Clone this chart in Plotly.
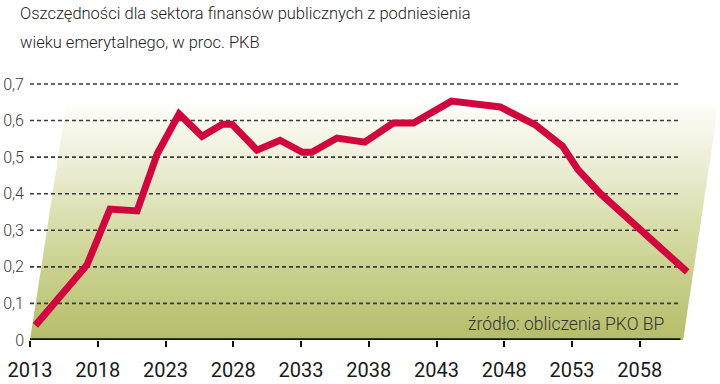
import plotly.graph_objects as go

# Data
years = [2013.4, 2017.2, 2018.9, 2020.9, 2022.4, 2024.0, 2025.7, 2027.2, 2027.9,
         2029.75, 2031.45, 2033.1, 2033.8, 2035.65, 2037.7, 2039.8, 2041.3, 2044.1,
         2047.7, 2050.3, 2052.3, 2053.45, 2055.1, 2061.5]
savings = [0.04, 0.205, 0.358, 0.353, 0.51, 0.618, 0.557, 0.59, 0.59,
           0.519, 0.546, 0.513, 0.513, 0.552, 0.541, 0.593, 0.593, 0.653,
           0.637, 0.588, 0.530, 0.465, 0.40, 0.186]

x_tick_years = [2013, 2018, 2023, 2028, 2033, 2038, 2043, 2048, 2053, 2058]
y_tick_vals = [0, 0.1, 0.2, 0.3, 0.4, 0.5, 0.6, 0.7]
y_tick_labels = ["0", "0,1", "0,2", "0,3", "0,4", "0,5", "0,6", "0,7"]

title_line1 = "Oszczędności dla sektora finansów publicznych z podniesienia"
title_line2 = "wieku emerytalnego, w proc. PKB"
source_text = "źródło: obliczenia PKO BP"

X_START, X_END = 2013, 2061.0
X_RANGE = [2013, 2063.92]
Y_RANGE = [0, 0.76]

fig = go.Figure()

# Background slanted panel with vertical gradient
panel_x = [X_START, X_END + 0.2, 2063.85, 2015.73, X_START]
panel_y = [0, 0, 0.656, 0.656, 0]
fig.add_trace(go.Scatter(
    x=panel_x, y=panel_y, mode="lines", fill="toself",
    line=dict(width=0, color="rgba(0,0,0,0)"),
    fillgradient=dict(type="vertical", start=0, stop=0.656,
                      colorscale=[[0, "#b5bd6a"], [0.35, "#ced495"],
                                  [0.7, "#e9ecd0"], [0.9, "#f8f8ee"], [1, "#ffffff"]]),
    hoverinfo="skip", showlegend=False))

# Dashed gridlines
gx, gy = [], []
for v in y_tick_vals[1:]:
    gx += [X_START, X_END, None]
    gy += [v, v, None]
fig.add_trace(go.Scatter(x=gx, y=gy, mode="lines",
                         line=dict(color="#3a3a3a", width=1.6, dash="4px,3px"),
                         hoverinfo="skip", showlegend=False))

# Baseline axis
fig.add_trace(go.Scatter(x=[X_START, X_END], y=[0, 0], mode="lines",
                         line=dict(color="#111111", width=3.5),
                         hoverinfo="skip", showlegend=False, cliponaxis=False))

# Data line
fig.add_trace(go.Scatter(x=years, y=savings, mode="lines",
                         line=dict(color="#d1063f", width=7),
                         hoverinfo="skip", showlegend=False))

title_font = dict(family="Roboto", size=16.5, color="#222222", weight=300)
fig.add_annotation(text=title_line1, xref="paper", yref="paper",
                   x=-0.0174, y=1 + (62 - 14) / 278, xanchor="left", yanchor="middle",
                   showarrow=False, font=title_font)
fig.add_annotation(text=title_line2, xref="paper", yref="paper",
                   x=-0.0174, y=1 + (62 - 43) / 278, xanchor="left", yanchor="middle",
                   showarrow=False, font=title_font)
fig.add_annotation(text=source_text, xref="paper", yref="y",
                   x=(666 - 30) / 690, y=0.045, xanchor="right", yanchor="middle",
                   showarrow=False,
                   font=dict(family="Roboto", size=17.5, color="#333333", weight=300))

fig.update_layout(
    width=720, height=384,
    margin=dict(l=30, r=0, t=62, b=44),
    paper_bgcolor="white", plot_bgcolor="white",
    showlegend=False,
    xaxis=dict(range=X_RANGE, tickvals=x_tick_years, ticktext=[str(y) for y in x_tick_years],
               showgrid=False, zeroline=False, showline=False,
               ticks="outside", ticklen=6, tickwidth=1.5, tickcolor="#111111",
               ticklabelstandoff=6,
               tickfont=dict(family="Roboto", size=20, color="#1a1a1a")),
    yaxis=dict(range=Y_RANGE, tickvals=y_tick_vals, ticktext=y_tick_labels,
               showgrid=False, zeroline=False, showline=False, ticks="",
               ticklabelstandoff=5,
               tickfont=dict(family="Roboto", size=16, color="#3a3a3a", weight=300)),
)

fig.write_html("out.html", config={"displayModeBar": False},
               post_script="document.body.style.margin='0';document.body.style.padding='0';")
